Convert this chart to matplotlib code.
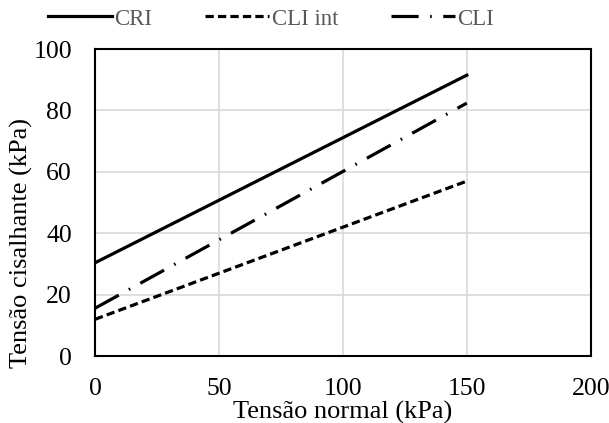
import matplotlib
matplotlib.use("Agg")
import matplotlib.pyplot as plt

plt.rcParams['font.family'] = ['Liberation Serif', 'DejaVu Serif']

x_vals = [0, 150]
cri = [30.4, 91.5]
cli_int = [12.0, 57.0]
cli = [15.6, 82.4]

fig = plt.figure(figsize=(6.09, 4.23), dpi=100)
ax = fig.add_axes([0.156, 0.158, 0.814, 0.726])

lw = 2.3
ax.plot(x_vals, cri, color='black', linewidth=lw, label='CRI')
ax.plot(x_vals, cli_int, color='black', linewidth=lw, dashes=(2.6, 1.3), label='CLI int')
ax.plot(x_vals, cli, color='black', linewidth=lw, dashes=(8.5, 3.6, 0.5, 3.6), label='CLI')

ax.set_xlim(0, 200)
ax.set_ylim(0, 100)
ax.set_xticks([0, 50, 100, 150, 200])
ax.set_yticks([0, 20, 40, 60, 80, 100])
ax.grid(True, color='#d9d9d9', linewidth=1.2)
ax.set_axisbelow(True)
ax.tick_params(axis='x', length=0, labelsize=18.5, pad=15.5)
ax.tick_params(axis='y', length=0, labelsize=18.5, pad=16.5)
for s in ax.spines.values():
    s.set_color('black')
    s.set_linewidth(1.5)

ax.set_xlabel('Tensão normal (kPa)', fontsize=19)
ax.set_ylabel('Tensão cisalhante (kPa)', fontsize=19)
ax.xaxis.set_label_coords(0.5, -0.145)
ax.yaxis.set_label_coords(-0.125, 0.368)

leg = fig.legend(loc='center left', bbox_to_anchor=(48 / 609, 1 - 19 / 423), ncol=3, frameon=False,
                 fontsize=16.5, handlelength=2.8, handletextpad=0.1, columnspacing=2.3,
                 borderpad=0, borderaxespad=0)
for t in leg.get_texts():
    t.set_color('#595959')

fig.savefig('out.png', dpi=100)
